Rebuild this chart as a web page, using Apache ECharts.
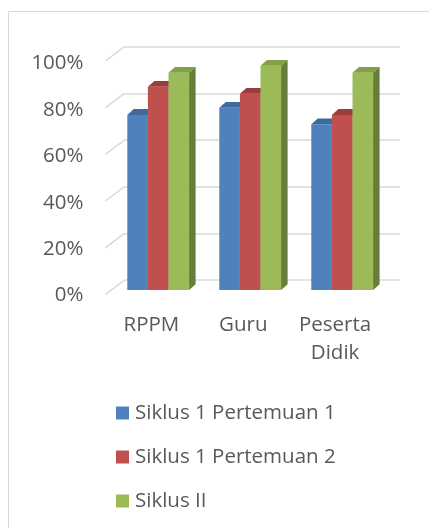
<!DOCTYPE html>
<html lang="en">
<head>
    <meta charset="UTF-8">
    <title>Siklus</title>
    <script src="https://cdn.jsdelivr.net/npm/echarts@6/dist/echarts.min.js"></script>
    <style>
        html, body { margin: 0; padding: 0; background: #fff; }
        #main { width: 429px; height: 528px; }
    </style>
</head>
<body>
<div id="main"></div>
<script>
    // data
    var categories = ['RPPM', 'Guru', 'Peserta Didik'];
    var seriesNames = ['Siklus 1 Pertemuan 1', 'Siklus 1 Pertemuan 2', 'Siklus II'];
    var siklus1p1 = [0.75, 0.78, 0.71];
    var siklus1p2 = [0.87, 0.84, 0.75];
    var siklus2 = [0.93, 0.96, 0.93];
    var yTicks = [0, 0.2, 0.4, 0.6, 0.8, 1];

    // colours: front, top, side
    var faces = [
        ['#4f81bd', '#3e6aa0', '#385d8a'],
        ['#c0504d', '#9d3c3a', '#8c3836'],
        ['#9bbb59', '#82a046', '#677e3a']
    ];

    // 3d depth of the wall and of one bar
    var wallDx = -19, wallDy = 14.3;
    var barDx = 6.5, barDy = -5.8;
    var barRatio = 20.6 / 92;

    var textCol = '#595959';
    var font = 'Open Sans';
    var fs = 20.5;

    function barRender(si) {
        return function (params, api) {
            var v = api.value(1);
            var top = api.coord([api.value(0), v]);
            var base = api.coord([api.value(0), 0]);
            var band = api.size([1, 0])[0];
            var w = band * barRatio;
            var x0 = top[0] + (si - 1.5) * w;
            var x1 = x0 + w;
            var f = faces[si];
            return {
                type: 'group',
                children: [
                    {type: 'rect', shape: {x: x0, y: top[1], width: w, height: base[1] - top[1]},
                        style: {fill: f[0]}},
                    {type: 'polygon', shape: {points: [[x0, top[1]], [x1, top[1]], [x1 + barDx, top[1] + barDy], [x0 + barDx, top[1] + barDy]]},
                        style: {fill: f[1]}},
                    {type: 'polygon', shape: {points: [[x1, top[1]], [x1 + barDx, top[1] + barDy], [x1 + barDx, base[1] + barDy], [x1, base[1]]]},
                        style: {fill: f[2]}}
                ]
            };
        };
    }

    function barData(arr) {
        var d = [];
        for (var i = 0; i < arr.length; i++) {
            d.push([i, arr[i]]);
        }
        return d;
    }

    var myChart = echarts.init(document.getElementById('main'));

    var option = {
        animation: false,
        textStyle: {fontFamily: font},
        graphic: [{
            type: 'rect', shape: {x: 8.5, y: 11.5, width: 440, height: 540},
            style: {fill: null, stroke: '#d9d9d9', lineWidth: 1}, silent: true
        }],
        grid: [
            // back wall
            {left: 124.5, top: 46.7, width: 275.5, height: 233.3},
            // front plane (labels)
            {left: 105.5, top: 63.5, width: 275.5, height: 232},
            // bar plane
            {left: 112.2, top: 56.5, width: 276, height: 233.5}
        ],
        xAxis: [
            {gridIndex: 0, type: 'category', data: categories, show: false},
            {gridIndex: 1, type: 'category', data: categories,
                axisLine: {show: false}, axisTick: {show: false},
                axisLabel: {
                    color: textCol, fontSize: fs, margin: 16, lineHeight: 28, interval: 0,
                    formatter: function (v) { return v.replace(' ', '\n'); }
                }},
            {gridIndex: 2, type: 'category', data: categories, show: false}
        ],
        yAxis: [
            {gridIndex: 0, type: 'value', min: 0, max: 1, interval: 0.2,
                axisLabel: {show: false}, axisLine: {show: false}, axisTick: {show: false},
                splitLine: {lineStyle: {color: '#d9d9d9', width: 1.5}}},
            {gridIndex: 1, type: 'value', min: 0, max: 1, interval: 0.2,
                axisLine: {show: false}, axisTick: {show: false}, splitLine: {show: false},
                axisLabel: {color: textCol, fontSize: fs, margin: 22,
                    formatter: function (v) { return Math.round(v * 100) + '%'; }}},
            {gridIndex: 2, type: 'value', min: 0, max: 1, show: false}
        ],
        legend: {
            orient: 'vertical', left: 111, top: 397,
            itemWidth: 13, itemHeight: 13, itemGap: 22, icon: 'rect',
            textStyle: {color: textCol, fontSize: fs, lineHeight: 22, padding: [0, 0, 0, 1]},
            data: seriesNames
        },
        series: [
            {
                // depth lines at the left of the wall
                type: 'custom', xAxisIndex: 0, yAxisIndex: 0, silent: true,
                data: yTicks,
                renderItem: function (params, api) {
                    var p = api.coord([0, api.value(0)]);
                    var x = params.coordSys.x;
                    return {type: 'line', shape: {x1: x, y1: p[1], x2: x + wallDx, y2: p[1] + wallDy},
                        style: {stroke: '#d9d9d9', lineWidth: 1.5}};
                },
                encode: {y: 0}
            },
            {name: seriesNames[0], type: 'custom', xAxisIndex: 2, yAxisIndex: 2,
                itemStyle: {color: faces[0][0]}, data: barData(siklus1p1), renderItem: barRender(0)},
            {name: seriesNames[1], type: 'custom', xAxisIndex: 2, yAxisIndex: 2,
                itemStyle: {color: faces[1][0]}, data: barData(siklus1p2), renderItem: barRender(1)},
            {name: seriesNames[2], type: 'custom', xAxisIndex: 2, yAxisIndex: 2,
                itemStyle: {color: faces[2][0]}, data: barData(siklus2), renderItem: barRender(2)}
        ]
    };

    myChart.setOption(option);
</script>
</body>
</html>
